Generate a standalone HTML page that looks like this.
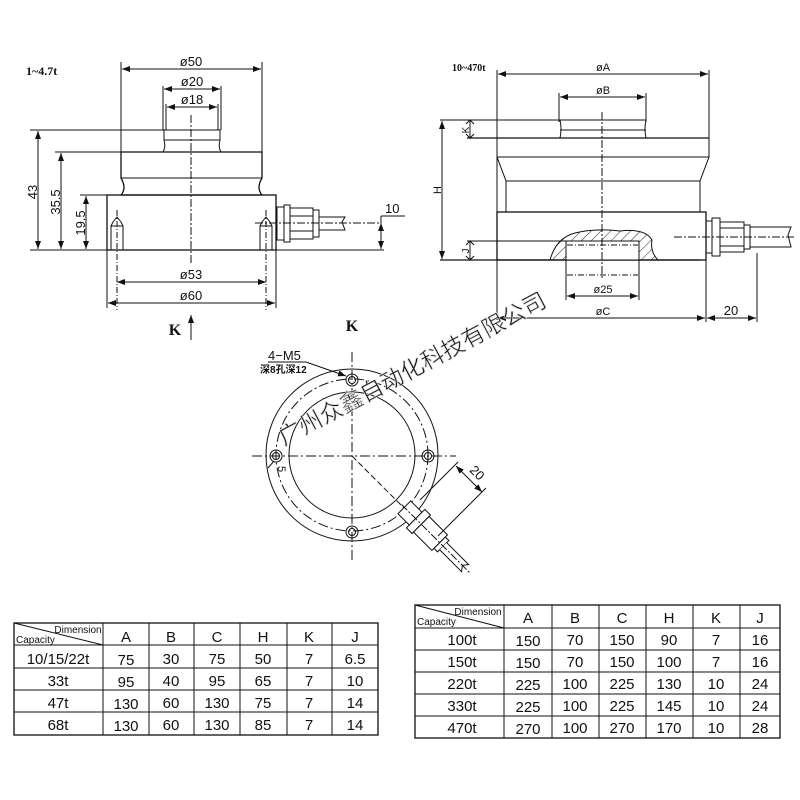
<!DOCTYPE html>
<html><head><meta charset="utf-8"><style>
html,body{margin:0;padding:0;background:#fff;}
svg{display:block;}
text{font-family:"Liberation Sans",sans-serif;fill:#111;}
.b{font-family:"Liberation Serif",serif;font-weight:bold;}
</style></head><body>
<svg width="800" height="800" viewBox="0 0 800 800" xmlns="http://www.w3.org/2000/svg">
<defs>
<marker id="a" markerWidth="8" markerHeight="6" refX="8" refY="3" orient="auto-start-reverse" markerUnits="userSpaceOnUse"><path d="M0,0 L8,3 L0,6z" fill="#111"/></marker>
<pattern id="h" width="7" height="7" patternUnits="userSpaceOnUse" patternTransform="rotate(45)"><line x1="0" y1="0" x2="0" y2="7" stroke="#222" stroke-width="1"/></pattern>
</defs>
<g stroke="#111" fill="none" stroke-width="1">
<!-- LEFT DRAWING -->
<text x="26" y="75" class="b" font-size="12" stroke="none">1~4.7t</text>
<line x1="121" y1="62" x2="121" y2="152"/><line x1="262" y1="62" x2="262" y2="152"/>
<line x1="122" y1="69" x2="261" y2="69" marker-start="url(#a)" marker-end="url(#a)"/>
<text x="191" y="66" font-size="13" text-anchor="middle" stroke="none">ø50</text>
<line x1="163" y1="86" x2="163" y2="130"/><line x1="221" y1="86" x2="221" y2="130"/>
<line x1="164" y1="89" x2="220" y2="89" marker-start="url(#a)" marker-end="url(#a)"/>
<text x="192" y="86" font-size="13" text-anchor="middle" stroke="none">ø20</text>
<line x1="166" y1="104" x2="166" y2="130"/><line x1="218" y1="104" x2="218" y2="130"/>
<line x1="167" y1="107" x2="217" y2="107" marker-start="url(#a)" marker-end="url(#a)"/>
<text x="192" y="104" font-size="13" text-anchor="middle" stroke="none">ø18</text>
<path d="M164,130 L220,130 L220,140 Q218,147 221,152 L163,152 Q166,147 164,140 Z"/>
<line x1="164" y1="140" x2="220" y2="140"/>
<path d="M121,152 L262,152 L262,178 Q256,188 262,195 L121,195 Q127,188 121,178 Z" stroke-width="1.3"/>
<line x1="121" y1="178" x2="262" y2="178"/>
<rect x="107" y="195" width="169" height="55" stroke-width="1.3"/>
<path d="M111,250 V226 L113,222 L117,217 L121,222 L123,226 V250"/><line x1="111" y1="226" x2="123" y2="226"/>
<path d="M260,250 V226 L262,222 L266,217 L270,222 L272,226 V250"/><line x1="260" y1="226" x2="272" y2="226"/>
<line x1="117" y1="210" x2="117" y2="310" stroke-dasharray="6,2,1,2"/>
<line x1="266" y1="210" x2="266" y2="310" stroke-dasharray="6,2,1,2"/>
<line x1="191" y1="115" x2="191" y2="265" stroke-dasharray="8,2,2,2"/>
<rect x="277" y="207" width="7" height="33"/><rect x="284" y="205" width="6" height="37"/>
<rect x="290" y="208" width="23" height="31"/><line x1="290" y1="216" x2="313" y2="216"/><line x1="290" y1="231" x2="313" y2="231"/>
<rect x="313" y="210" width="6" height="27"/>
<path d="M319,217 H345 L342,222 L345,230 H319"/>
<line x1="255" y1="223" x2="381" y2="223" stroke-dasharray="8,2,2,2"/>
<line x1="30" y1="130" x2="164" y2="130"/><line x1="55" y1="152" x2="121" y2="152"/><line x1="80" y1="195" x2="107" y2="195"/>
<line x1="30" y1="250" x2="107" y2="250"/><line x1="276" y1="250" x2="384" y2="250"/>
<line x1="38" y1="131" x2="38" y2="249" marker-start="url(#a)" marker-end="url(#a)"/>
<line x1="61" y1="153" x2="61" y2="249" marker-start="url(#a)" marker-end="url(#a)"/>
<line x1="86" y1="196" x2="86" y2="249" marker-start="url(#a)" marker-end="url(#a)"/>
<text transform="translate(37,192) rotate(-90)" font-size="13" text-anchor="middle" stroke="none">43</text>
<text transform="translate(60,202) rotate(-90)" font-size="13" text-anchor="middle" stroke="none">35.5</text>
<text transform="translate(85,223) rotate(-90)" font-size="13" text-anchor="middle" stroke="none">19.5</text>
<line x1="381" y1="216" x2="381" y2="249" marker-end="url(#a)"/><line x1="381" y1="223" x2="381" y2="224" marker-start="url(#a)"/>
<line x1="381" y1="216" x2="405" y2="216"/>
<text x="385" y="213" font-size="13" stroke="none">10</text>
<line x1="107" y1="250" x2="107" y2="308"/><line x1="276" y1="250" x2="276" y2="308"/>
<line x1="117" y1="282" x2="266" y2="282" marker-start="url(#a)" marker-end="url(#a)"/>
<text x="191" y="279" font-size="13" text-anchor="middle" stroke="none">ø53</text>
<line x1="108" y1="303" x2="275" y2="303" marker-start="url(#a)" marker-end="url(#a)"/>
<text x="191" y="300" font-size="13" text-anchor="middle" stroke="none">ø60</text>
<line x1="191" y1="340" x2="191" y2="315" marker-end="url(#a)"/>
<text x="175" y="335" class="b" font-size="16" text-anchor="middle" stroke="none">K</text>
<text x="352" y="331" class="b" font-size="16" text-anchor="middle" stroke="none">K</text>

<!-- RIGHT DRAWING -->
<text x="452" y="71" class="b" font-size="10" stroke="none">10~470t</text>
<line x1="497" y1="70" x2="497" y2="320"/><line x1="709" y1="70" x2="709" y2="138"/>
<line x1="498" y1="74" x2="708" y2="74" marker-start="url(#a)" marker-end="url(#a)"/>
<text x="603" y="71" font-size="11" text-anchor="middle" stroke="none">øA</text>
<line x1="559" y1="93" x2="559" y2="122"/><line x1="646" y1="93" x2="646" y2="122"/>
<line x1="560" y1="97" x2="645" y2="97" marker-start="url(#a)" marker-end="url(#a)"/>
<text x="603" y="94" font-size="11" text-anchor="middle" stroke="none">øB</text>
<path d="M560,120 Q562,129 560,138 M646,120 Q644,129 646,138"/>
<line x1="440" y1="120" x2="646" y2="120"/><line x1="560" y1="130" x2="646" y2="130"/>
<line x1="467" y1="138" x2="709" y2="138" stroke-width="1.3"/>
<path d="M497,138 V157 L506,181 V212 M709,138 V157 L700,181 V212"/>
<line x1="497" y1="157" x2="709" y2="157"/><line x1="506" y1="181" x2="700" y2="181"/>
<rect x="497" y="212" width="209" height="48" stroke-width="1.3"/>
<line x1="440" y1="260" x2="700" y2="260" stroke-width="1.3"/>
<path d="M550,260 Q556,238 575,233 Q595,228 620,231 Q645,228 652,240 Q650,252 658,260 Z" fill="url(#h)"/>
<rect x="566" y="241" width="73" height="19" fill="#fff"/>
<line x1="567" y1="245" x2="638" y2="245" stroke-dasharray="6,2,1,2"/>
<line x1="566" y1="260" x2="566" y2="300"/><line x1="639" y1="260" x2="639" y2="300"/>
<line x1="567" y1="275" x2="638" y2="275" stroke-dasharray="6,2,1,2"/>
<line x1="567" y1="296" x2="638" y2="296" marker-start="url(#a)" marker-end="url(#a)"/>
<text x="603" y="293" font-size="11" text-anchor="middle" stroke="none">ø25</text>
<line x1="602" y1="112" x2="602" y2="278" stroke-dasharray="8,2,2,2"/>
<line x1="467" y1="241" x2="566" y2="241"/>
<line x1="442" y1="121" x2="442" y2="259" marker-start="url(#a)" marker-end="url(#a)"/>
<text transform="translate(441,190) rotate(-90)" font-size="11" text-anchor="middle" stroke="none">H</text>
<line x1="470" y1="120" x2="470" y2="138"/><path d="M466,124 L470,120 L474,124 M466,134 L470,138 L474,134"/>
<text transform="translate(469,130) rotate(-90)" font-size="10" text-anchor="middle" stroke="none">K</text>
<line x1="470" y1="241" x2="470" y2="260"/><path d="M466,245 L470,241 L474,245 M466,256 L470,260 L474,256"/>
<text transform="translate(469,251) rotate(-90)" font-size="10" text-anchor="middle" stroke="none">J</text>
<rect x="706" y="221" width="6" height="32"/><rect x="712" y="218" width="8" height="38"/>
<rect x="720" y="222" width="24" height="30"/><line x1="720" y1="228" x2="744" y2="228"/><line x1="720" y1="246" x2="744" y2="246"/>
<rect x="744" y="225" width="6" height="24"/>
<path d="M750,227 H791 L788,235 L791,247 H750"/>
<line x1="674" y1="237" x2="796" y2="237" stroke-dasharray="8,2,2,2"/>
<line x1="706" y1="260" x2="706" y2="322"/><line x1="757" y1="253" x2="757" y2="322"/>
<line x1="498" y1="318" x2="705" y2="318" marker-start="url(#a)" marker-end="url(#a)"/>
<text x="603" y="315" font-size="11" text-anchor="middle" stroke="none">øC</text>
<line x1="707" y1="318" x2="756" y2="318" marker-start="url(#a)" marker-end="url(#a)"/>
<text x="731" y="315" font-size="13" text-anchor="middle" stroke="none">20</text>

<!-- RING VIEW -->
<line x1="352" y1="352" x2="352" y2="562" stroke-dasharray="10,3,2,3"/>
<line x1="252" y1="456" x2="456" y2="456" stroke-dasharray="10,3,2,3"/>
<circle cx="352" cy="455" r="86"/>
<circle cx="352" cy="455" r="63"/>
<circle cx="352" cy="455" r="76" stroke-dasharray="10,3,2,3"/>
<circle cx="352" cy="380" r="6"/><circle cx="352" cy="380" r="3.5"/>
<circle cx="276" cy="456" r="6"/><circle cx="276" cy="456" r="3.5"/>
<circle cx="428" cy="456" r="6"/><circle cx="428" cy="456" r="3.5"/>
<circle cx="352" cy="532" r="6"/><circle cx="352" cy="532" r="3.5"/>
<line x1="352" y1="456" x2="405" y2="509" stroke-dasharray="6,3"/>
<g transform="translate(352,455) rotate(45)">
<rect x="74" y="-9" width="16" height="18" fill="#fff"/>
<rect x="90" y="-13" width="8" height="26" fill="#fff"/>
<rect x="98" y="-11" width="26" height="22" fill="#fff"/>
<rect x="124" y="-8" width="5" height="16" fill="#fff"/>
<path d="M129,-5 H160 L156,0 L160,5 H129" fill="#fff"/>
<line x1="70" y1="0" x2="168" y2="0" stroke-dasharray="8,2,2,2"/>
</g>
<line x1="420" y1="500" x2="458" y2="462"/><line x1="438" y1="536" x2="486" y2="488"/>
<line x1="456" y1="466" x2="482" y2="492" marker-start="url(#a)" marker-end="url(#a)"/>
<text transform="translate(474,476) rotate(45)" font-size="13" text-anchor="middle" stroke="none">20</text>
<line x1="268" y1="362" x2="306" y2="362"/>
<line x1="306" y1="362" x2="346" y2="376" marker-end="url(#a)"/>
<text x="268" y="360" font-size="13" stroke="none">4−M5</text>
<text x="260" y="373" font-size="10" font-weight="bold" stroke="none" style="font-family:'Liberation Sans','Noto Sans CJK SC',sans-serif">深8孔深12</text>
<line x1="268" y1="468" x2="274" y2="461"/>
<text transform="translate(278,466) rotate(90)" font-size="11" stroke="none">5</text>

<text transform="translate(284,446) rotate(-28)" font-size="23" fill="none" stroke="#dcdcdc" stroke-width="0.7" style="font-family:'Noto Sans CJK SC',sans-serif">广州众鑫自动化科技有限公司</text>

<!-- TABLE 1 -->
<rect x="14" y="623" width="364" height="112" stroke-width="1.3"/>
<path d="M103,623 V735 M149,623 V735 M194,623 V735 M240,623 V735 M287,623 V735 M332,623 V735"/>
<path d="M14,645 H378 M14,668 H378 M14,690 H378 M14,712 H378"/>
<line x1="14" y1="623" x2="103" y2="645"/>
</g>
<g font-size="15" text-anchor="middle">
<text x="78" y="633" font-size="10" text-anchor="middle">Dimension</text>
<text x="16" y="643" font-size="10" text-anchor="start">Capacity</text>
<text x="126" y="642">A</text><text x="171" y="642">B</text><text x="217" y="642">C</text><text x="263" y="642">H</text><text x="309" y="642">K</text><text x="355" y="642">J</text>
<text x="58" y="664">10/15/22t</text><text x="126" y="665">75</text><text x="171" y="664">30</text><text x="217" y="664">75</text><text x="263" y="664">50</text><text x="309" y="664">7</text><text x="355" y="664">6.5</text>
<text x="58" y="686">33t</text><text x="126" y="687">95</text><text x="171" y="686">40</text><text x="217" y="686">95</text><text x="263" y="686">65</text><text x="309" y="686">7</text><text x="355" y="686">10</text>
<text x="58" y="708">47t</text><text x="126" y="709">130</text><text x="171" y="708">60</text><text x="217" y="708">130</text><text x="263" y="708">75</text><text x="309" y="708">7</text><text x="355" y="708">14</text>
<text x="58" y="730">68t</text><text x="126" y="731">130</text><text x="171" y="730">60</text><text x="217" y="730">130</text><text x="263" y="730">85</text><text x="309" y="730">7</text><text x="355" y="730">14</text>
</g>
<!-- TABLE 2 -->
<g stroke="#111" fill="none" stroke-width="1">
<rect x="415" y="605" width="365" height="133" stroke-width="1.3"/>
<path d="M504,605 V738 M552,605 V738 M599,605 V738 M646,605 V738 M693,605 V738 M740,605 V738"/>
<path d="M415,628 H780 M415,650 H780 M415,672 H780 M415,694 H780 M415,716 H780"/>
<line x1="415" y1="605" x2="504" y2="628"/>
</g>
<g font-size="15" text-anchor="middle">
<text x="478" y="615" font-size="10">Dimension</text>
<text x="417" y="625" font-size="10" text-anchor="start">Capacity</text>
<text x="528" y="623">A</text><text x="575" y="623">B</text><text x="622" y="623">C</text><text x="669" y="623">H</text><text x="716" y="623">K</text><text x="760" y="623">J</text>
<text x="462" y="645">100t</text><text x="528" y="646">150</text><text x="575" y="645">70</text><text x="622" y="645">150</text><text x="669" y="645">90</text><text x="716" y="645">7</text><text x="760" y="645">16</text>
<text x="462" y="667">150t</text><text x="528" y="668">150</text><text x="575" y="667">70</text><text x="622" y="667">150</text><text x="669" y="667">100</text><text x="716" y="667">7</text><text x="760" y="667">16</text>
<text x="462" y="689">220t</text><text x="528" y="690">225</text><text x="575" y="689">100</text><text x="622" y="689">225</text><text x="669" y="689">130</text><text x="716" y="689">10</text><text x="760" y="689">24</text>
<text x="462" y="711">330t</text><text x="528" y="712">225</text><text x="575" y="711">100</text><text x="622" y="711">225</text><text x="669" y="711">145</text><text x="716" y="711">10</text><text x="760" y="711">24</text>
<text x="462" y="733">470t</text><text x="528" y="734">270</text><text x="575" y="733">100</text><text x="622" y="733">270</text><text x="669" y="733">170</text><text x="716" y="733">10</text><text x="760" y="733">28</text>
</g>
</svg>
</body></html>
